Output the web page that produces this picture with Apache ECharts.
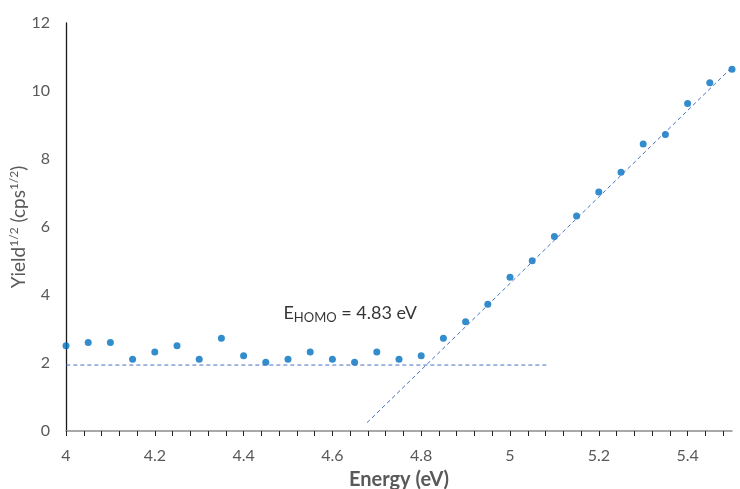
<!DOCTYPE html>
<html>
<head>
<meta charset="utf-8">
<script src="https://cdn.jsdelivr.net/npm/echarts@6/dist/echarts.min.js"></script>
<style>
html,body{margin:0;padding:0;background:#fff;}
#chart{width:740px;height:489px;}
</style>
</head>
<body>
<div id="chart"></div>
<script>
// ---- data ----
const energy = [4.00,4.05,4.10,4.15,4.20,4.25,4.30,4.35,4.40,4.45,4.50,4.55,4.60,4.65,4.70,4.75,4.80,4.85,4.90,4.95,5.00,5.05,5.10,5.15,5.20,5.25,5.30,5.35,5.40,5.45,5.50];
const yieldSqrt = [2.51,2.60,2.60,2.11,2.32,2.51,2.11,2.73,2.21,2.02,2.11,2.32,2.11,2.02,2.32,2.11,2.21,2.73,3.21,3.73,4.52,5.01,5.72,6.32,7.03,7.61,8.44,8.72,9.63,10.24,10.64];
const baselineX = [3.985, 5.088];
const baselineY = [1.94, 1.94];
const fitX = [4.678, 5.53];
const fitY = [0.245, 11.08];
const annotationPos = [4.64, 3.47];
const annotationText = ['E', 'HOMO', ' = 4.83 eV'];
const xTickLabels = [4, 4.2, 4.4, 4.6, 4.8, 5, 5.2, 5.4];
const yTickLabels = [0, 2, 4, 6, 8, 10, 12];

const xMinorStep = 0.04;
const xTicks = [];
for (let v = 4; v < 5.5 - 1e-9; v += xMinorStep) xTicks.push(Math.round(v * 100) / 100);

const FONT = 'Lato';
const chart = echarts.init(document.getElementById('chart'), null, {renderer: 'canvas'});
chart.setOption({
  animation: false,
  backgroundColor: '#ffffff',
  textStyle: {fontFamily: FONT},
  grid: {left: 66, right: 8, top: 23, bottom: 58, containLabel: false, outerBoundsMode: 'none'},
  xAxis: {
    type: 'value', min: 4, max: 5.5,
    name: 'Energy (eV)', nameLocation: 'middle', nameGap: 39, nameMoveOverlap: false,
    nameTextStyle: {fontFamily: FONT, fontSize: 20, fontWeight: 'bold', color: '#595959'},
    axisLine: {show: true, onZero: false, lineStyle: {color: '#8c8c8c', width: 1.5}},
    axisTick: {show: true, length: 5, customValues: xTicks, lineStyle: {color: '#222', width: 1}},
    axisLabel: {customValues: xTickLabels, margin: 17, fontFamily: FONT, fontSize: 16, color: '#595959'},
    splitLine: {show: false}
  },
  yAxis: {
    type: 'value', min: 0, max: 12, interval: 2,
    name: '{n|Yield}{s|1/2}{n| (cps}{s|1/2}{n|)}', nameLocation: 'middle', nameGap: 36, nameMoveOverlap: false,
    nameTextStyle: {
      fontFamily: FONT, color: '#595959',
      rich: {
        n: {fontFamily: FONT, fontSize: 19, color: '#595959', lineHeight: 22},
        s: {fontFamily: FONT, fontSize: 12, color: '#595959', verticalAlign: 'top', lineHeight: 22}
      }
    },
    axisLine: {show: true, lineStyle: {color: '#1a1a1a', width: 1.3}},
    axisTick: {show: false},
    axisLabel: {customValues: yTickLabels, margin: 16, fontFamily: FONT, fontSize: 16, color: '#595959'},
    splitLine: {show: false}
  },
  series: [
    {
      type: 'line', silent: true, clip: false, showSymbol: false, symbol: 'none',
      data: baselineX.map((x, i) => [x, baselineY[i]]),
      lineStyle: {color: '#4472C4', width: 1, type: [4, 3]}
    },
    {
      type: 'line', silent: true, clip: false, showSymbol: false, symbol: 'none',
      data: fitX.map((x, i) => [x, fitY[i]]),
      lineStyle: {color: '#4472C4', width: 1, type: [4, 3]}
    },
    {
      type: 'scatter', silent: true, symbol: 'circle', symbolSize: 7,
      data: energy.map((x, i) => [x, yieldSqrt[i]]),
      itemStyle: {color: '#0070C0'}
    },
    {
      type: 'scatter', silent: true, symbolSize: 0, clip: false,
      data: [annotationPos],
      label: {
        show: true, position: 'inside',
        formatter: '{m|' + annotationText[0] + '}{b|' + annotationText[1] + '}{m|' + annotationText[2] + '}',
        rich: {
          m: {fontFamily: FONT, fontSize: 18, color: '#000', lineHeight: 23},
          b: {fontFamily: FONT, fontSize: 13, color: '#000', verticalAlign: 'bottom'}
        }
      }
    }
  ]
});
</script>
</body>
</html>
